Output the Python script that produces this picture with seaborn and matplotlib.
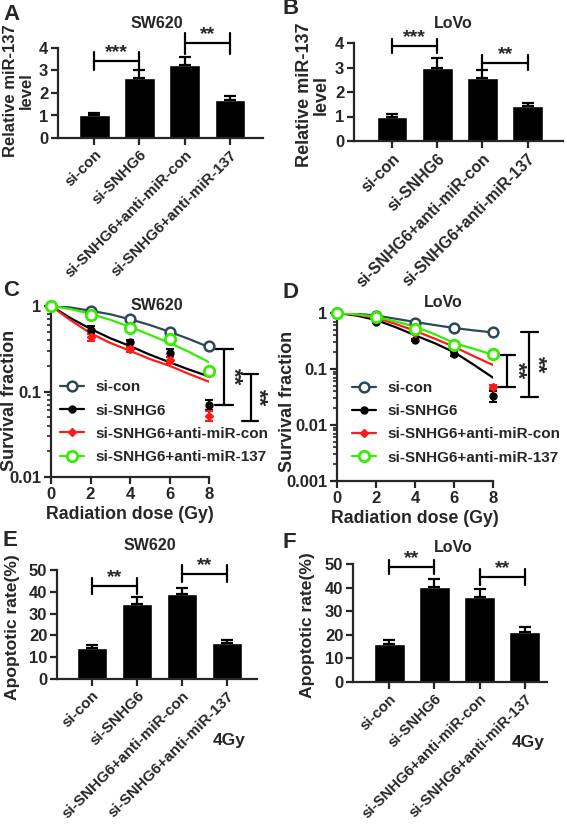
import matplotlib
matplotlib.use('Agg')
import matplotlib.pyplot as plt
import seaborn as sns
import numpy as np
from matplotlib.lines import Line2D
from matplotlib.ticker import LogLocator, FixedLocator, FixedFormatter, NullFormatter

sns.set_style('ticks')
plt.rcParams['font.family'] = ['Liberation Sans', 'DejaVu Sans']
plt.rcParams['font.weight'] = 'bold'
plt.rcParams['axes.labelweight'] = 'bold'
plt.rcParams['axes.linewidth'] = 1.6

# ---- data ----
groups = ['si-con', 'si-SNHG6', 'si-SNHG6+anti-miR-con', 'si-SNHG6+anti-miR-137']

mir_sw620 = [1.0, 2.68, 3.23, 1.68]
mir_sw620_err = [0.10, 0.35, 0.38, 0.17]
mir_lovo = [1.0, 3.0, 2.57, 1.42]
mir_lovo_err = [0.10, 0.38, 0.33, 0.15]

apo_sw620 = [14.2, 34.6, 38.8, 16.5]
apo_sw620_err = [1.5, 2.9, 3.0, 1.5]
apo_lovo = [16.2, 40.1, 36.0, 21.2]
apo_lovo_err = [1.7, 3.5, 3.5, 2.1]

doses = [0, 2, 4, 6, 8]
fit_doses = [0, 1, 2, 3, 4, 5, 6, 7, 8]
series = ['si-con', 'si-SNHG6', 'si-SNHG6+anti-miR-con', 'si-SNHG6+anti-miR-137']

sw_surv = {
    'si-con': [1, 0.88, 0.70, 0.50, 0.34],
    'si-SNHG6': [1, 0.53, 0.38, 0.285, 0.07],
    'si-SNHG6+anti-miR-con': [1, 0.43, 0.31, 0.235, 0.052],
    'si-SNHG6+anti-miR-137': [1, 0.79, 0.56, 0.41, 0.175],
}
sw_err = {
    'si-con': [0, 0.02, 0.02, 0.02, 0.015],
    'si-SNHG6': [0, 0.06, 0.025, 0.03, 0.009],
    'si-SNHG6+anti-miR-con': [0, 0.04, 0.02, 0.02, 0.007],
    'si-SNHG6+anti-miR-137': [0, 0.02, 0.02, 0.02, 0.01],
}
sw_fit = {
    'si-con': [1, 0.96, 0.88, 0.80, 0.70, 0.60, 0.50, 0.41, 0.33],
    'si-SNHG6': [1, 0.72, 0.54, 0.42, 0.34, 0.27, 0.22, 0.18, 0.15],
    'si-SNHG6+anti-miR-con': [1, 0.68, 0.48, 0.37, 0.30, 0.24, 0.20, 0.16, 0.13],
    'si-SNHG6+anti-miR-137': [1, 0.92, 0.81, 0.69, 0.57, 0.46, 0.37, 0.29, 0.22],
}

lv_surv = {
    'si-con': [1, 0.90, 0.65, 0.53, 0.45],
    'si-SNHG6': [1, 0.69, 0.33, 0.185, 0.033],
    'si-SNHG6+anti-miR-con': [1, 0.77, 0.44, 0.27, 0.048],
    'si-SNHG6+anti-miR-137': [1, 0.86, 0.51, 0.265, 0.185],
}
lv_err = {
    'si-con': [0, 0.02, 0.02, 0.02, 0.02],
    'si-SNHG6': [0, 0.03, 0.02, 0.015, 0.007],
    'si-SNHG6+anti-miR-con': [0, 0.03, 0.02, 0.02, 0.004],
    'si-SNHG6+anti-miR-137': [0, 0.03, 0.03, 0.02, 0.025],
}
lv_fit = {
    'si-con': [1, 0.97, 0.90, 0.79, 0.69, 0.61, 0.54, 0.49, 0.45],
    'si-SNHG6': [1, 0.90, 0.75, 0.56, 0.40, 0.29, 0.20, 0.12, 0.07],
    'si-SNHG6+anti-miR-con': [1, 0.93, 0.82, 0.64, 0.48, 0.35, 0.25, 0.17, 0.118],
    'si-SNHG6+anti-miR-137': [1, 0.95, 0.85, 0.71, 0.57, 0.42, 0.29, 0.23, 0.18],
}

colors = {'si-con': '#2f4856', 'si-SNHG6': '#000000',
          'si-SNHG6+anti-miR-con': '#ff1a1a', 'si-SNHG6+anti-miR-137': '#33ee00'}
markers = {'si-con': dict(marker='o', ms=7, mfc='white', mew=1.8),
           'si-SNHG6': dict(marker='o', ms=5, mfc='#000000', mew=1),
           'si-SNHG6+anti-miR-con': dict(marker='D', ms=4.5, mfc='#ff1a1a', mew=1),
           'si-SNHG6+anti-miR-137': dict(marker='o', ms=7.5, mfc='white', mew=2)}

W, H = 567, 825
fig = plt.figure(figsize=(W / 100, H / 100), dpi=100)


def box(l, r, t, b):
    return [l / W, 1 - b / H, (r - l) / W, (b - t) / H]


def ftext(x, y, s, **kw):
    fig.text(x / W, 1 - y / H, s, **kw)


def place_ylabel(ax, rect, px, py):
    l, b, w, h = rect
    ax.yaxis.set_label_coords((px / W - l) / w, ((1 - py / H) - b) / h)
    ax.yaxis.label.set_verticalalignment('center')


def style(ax, size=12):
    sns.despine(ax=ax)
    ax.tick_params(direction='out', length=5, width=1.6, labelsize=size, pad=2)
    for lab in ax.get_xticklabels() + ax.get_yticklabels():
        lab.set_fontweight('bold')


def bracket(ax, x0, x1, y, d, stars):
    kw = dict(color='black', lw=1.6, clip_on=False)
    ax.plot([x0, x1], [y, y], **kw)
    ax.plot([x0, x0], [y - d, y + d], **kw)
    ax.plot([x1, x1], [y - d, y + d], **kw)
    ax.text((x0 + x1) / 2, y, stars, ha='center', va='bottom', fontsize=14,
            fontweight='bold')


def bar_panel(rect, vals, errs, xlim, ylim, yticks, ylabel, ylabelsize, lab_xy,
              xtsize):
    ax = fig.add_axes(rect)
    sns.barplot(x=groups, y=vals, color='black', saturation=1, width=0.68, ax=ax)
    ax.errorbar(range(4), vals, yerr=[np.zeros(4), errs], fmt='none',
                ecolor='black', elinewidth=1.6, capsize=4, capthick=1.6)
    ax.set_xlim(*xlim)
    ax.set_ylim(*ylim)
    ax.set_yticks(yticks)
    ax.set_ylabel(ylabel, fontsize=ylabelsize, fontweight='bold', linespacing=1.0)
    place_ylabel(ax, rect, *lab_xy)
    style(ax, 12)
    ax.set_xticks(range(4))
    ax.set_xticklabels(groups, rotation=45, ha='right', rotation_mode='anchor',
                       fontsize=xtsize, fontweight='bold')
    return ax


def surv_panel(rect, surv, err, fit, ylim, yticks, yticklabels, leg_xy, lab_xy):
    ax = fig.add_axes(rect)
    for s in series:
        sns.lineplot(x=fit_doses, y=fit[s], color=colors[s], lw=1.6, ax=ax)
        ax.errorbar(doses, surv[s], yerr=err[s], fmt='none', ecolor=colors[s],
                    elinewidth=1.5, capsize=3, capthick=1.5, clip_on=False)
        ax.plot(doses, surv[s], ls='none', color=colors[s], mec=colors[s],
                clip_on=False, zorder=5, **markers[s])
    ax.set_yscale('log')
    ax.set_xlim(0, 8)
    ax.set_ylim(*ylim)
    ax.set_xticks([0, 2, 4, 6, 8])
    ax.yaxis.set_major_locator(FixedLocator(yticks))
    ax.yaxis.set_major_formatter(FixedFormatter(yticklabels))
    ax.yaxis.set_minor_locator(LogLocator(subs=range(2, 10)))
    ax.yaxis.set_minor_formatter(NullFormatter())
    ax.set_xlabel('Radiation dose (Gy)', fontsize=12.8, fontweight='bold', labelpad=3)
    ax.set_ylabel('Survival fraction', fontsize=13, fontweight='bold')
    place_ylabel(ax, rect, *lab_xy)
    style(ax, 12)
    ax.tick_params(which='minor', direction='out', length=3, width=1.2)
    handles = [Line2D([], [], color=colors[s], mec=colors[s], lw=1.6, **markers[s])
               for s in series]
    ax.legend(handles, series, loc='upper left', bbox_to_anchor=leg_xy,
              frameon=False, borderpad=0, borderaxespad=0, handlelength=1.6,
              handletextpad=0.7, labelspacing=0.6,
              prop=dict(size=11, weight='bold'))
    return ax


def vbracket(ax, x, x0, x1, y0, y1, sx):
    kw = dict(color='black', lw=1.6, clip_on=False)
    ax.plot([x, x], [y0, y1], **kw)
    ax.plot([x0, x1], [y0, y0], **kw)
    ax.plot([x0, x1], [y1, y1], **kw)
    ax.text(sx, np.sqrt(y0 * y1), '**', rotation=270, ha='center', va='center',
            fontsize=16, fontweight='bold')


# ---- A ----
rA = box(58, 263, 48, 138)
axA = bar_panel(rA, mir_sw620, mir_sw620_err, (-0.8, 3.73), (0, 4),
                [0, 1, 2, 3, 4], 'Relative miR-137\nlevel', 12, (18.5, 91), 11)
bracket(axA, 0, 1, 3.42, 0.4, '***')
bracket(axA, 2, 3, 4.2, 0.45, '**')
ftext(157, 23, 'SW620', ha='center', va='center', fontsize=11.5, fontweight='bold')

# ---- B ----
rB = box(354, 563, 43, 141)
axB = bar_panel(rB, mir_lovo, mir_lovo_err, (-0.84, 3.78), (0, 4),
                [0, 1, 2, 3, 4], 'Relative miR-137\nlevel', 13, (313, 95), 11.5)
bracket(axB, 0, 1, 3.89, 0.28, '***')
bracket(axB, 2, 3, 3.2, 0.3, '**')
ftext(453, 23, 'LoVo', ha='center', va='center', fontsize=11.5, fontweight='bold')

# ---- C ----
rC = box(51, 209, 306, 477)
axC = surv_panel(rC, sw_surv, sw_err, sw_fit, (0.01, 1), [0.01, 0.1, 1],
                 ['0.01', '0.1', '1'], (0.057, 0.565), (9, 400))
vbracket(axC, 8.76, 8.3, 9.22, 0.31, 0.07, 9.2)
vbracket(axC, 10.13, 9.67, 10.48, 0.16, 0.045, 10.45)
ftext(157, 305, 'SW620', ha='center', va='center', fontsize=11.5, fontweight='bold')

# ---- D ----
rD = box(337, 493, 313, 481)
axD = surv_panel(rD, lv_surv, lv_err, lv_fit, (0.001, 1),
                 [0.001, 0.01, 0.1, 1], ['0.001', '0.01', '0.1', '1'],
                 (0.096, 0.595), (288, 401))
vbracket(axD, 8.72, 8.26, 9.13, 0.178, 0.048, 9.2)
vbracket(axD, 9.85, 9.44, 10.3, 0.46, 0.032, 10.25)
ftext(443, 303, 'LoVo', ha='center', va='center', fontsize=11.5, fontweight='bold')

# ---- E ----
rE = box(57, 257, 570, 679)
axE = bar_panel(rE, apo_sw620, apo_sw620_err, (-0.78, 3.67), (0, 50),
                [0, 10, 20, 30, 40, 50], 'Apoptotic rate(%)', 12.6, (12.5, 627), 11)
bracket(axE, 0, 1, 42.6, 3.6, '**')
bracket(axE, 2, 3, 48.3, 3.8, '**')
ftext(150, 545, 'SW620', ha='center', va='center', fontsize=11.5, fontweight='bold')
ftext(229, 740, '4Gy', ha='center', va='center', fontsize=12.5, fontweight='bold')

# ---- F ----
rF = box(353, 547, 564, 682)
axF = bar_panel(rF, apo_lovo, apo_lovo_err, (-0.8, 3.49), (0, 50),
                [0, 10, 20, 30, 40, 50], 'Apoptotic rate(%)', 12.6, (308, 625), 10.8)
bracket(axF, 0, 1, 48.7, 3.0, '**')
bracket(axF, 2, 3, 44.5, 3.2, '**')
ftext(453, 548, 'LoVo', ha='center', va='center', fontsize=11.5, fontweight='bold')
ftext(528, 743, '4Gy', ha='center', va='center', fontsize=12.5, fontweight='bold')

# ---- panel letters ----
for letter, x, y in [('A', 3, 14), ('B', 282, 9), ('C', 3, 290), ('D', 282, 292),
                     ('E', 3, 540), ('F', 282, 543)]:
    ftext(x, y, letter, ha='left', va='center', fontsize=16, fontweight='bold')

fig.savefig('out.png', dpi=100)
